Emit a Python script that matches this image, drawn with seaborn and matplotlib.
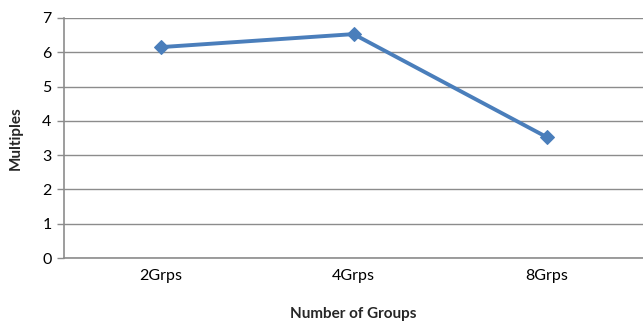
import matplotlib
matplotlib.use("Agg")
import matplotlib.pyplot as plt
from matplotlib.ticker import FixedLocator
import seaborn as sns
import pandas as pd

groups = ["2Grps", "4Grps", "8Grps"]
multiples = [6.15, 6.53, 3.53]

sns.set_style("white")
plt.rcParams["font.family"] = ["Lato", "DejaVu Sans"]

df = pd.DataFrame({"Number of Groups": groups, "Multiples": multiples})

fig = plt.figure(figsize=(6.43, 3.27), dpi=100)
ax = fig.add_axes([64 / 643, 69 / 327, 579 / 643, 240 / 327])

sns.lineplot(data=df, x="Number of Groups", y="Multiples", ax=ax,
             color="#4A7EBB", linewidth=2.8, marker="D", markersize=7.5,
             markeredgecolor="#4A7EBB", sort=False)

ax.set_xlim(-0.5, 2.5)
ax.set_ylim(0, 7)
ax.set_yticks(range(0, 8))
ax.yaxis.grid(True, color="#8C8C8C", linewidth=1.0)
ax.set_axisbelow(True)

for side in ("top", "right"):
    ax.spines[side].set_visible(False)
for side in ("left", "bottom"):
    ax.spines[side].set_color("#8C8C8C")
    ax.spines[side].set_linewidth(1.2)

ax.xaxis.set_minor_locator(FixedLocator([-0.5, 0.5, 1.5, 2.5]))
ax.tick_params(axis="x", which="major", length=0, labelsize=11.5, pad=8, colors="black")
ax.tick_params(axis="x", which="minor", length=5, width=1, color="#8C8C8C", direction="out")
ax.tick_params(axis="y", length=5, width=1, color="#8C8C8C", direction="out",
               labelsize=11.5, labelcolor="black", left=True, pad=4)

ax.set_xlabel("Number of Groups", fontsize=11, fontweight="bold", labelpad=17)
ax.set_ylabel("Multiples", fontsize=11, fontweight="bold", labelpad=14)

fig.savefig("out.png", dpi=100)
